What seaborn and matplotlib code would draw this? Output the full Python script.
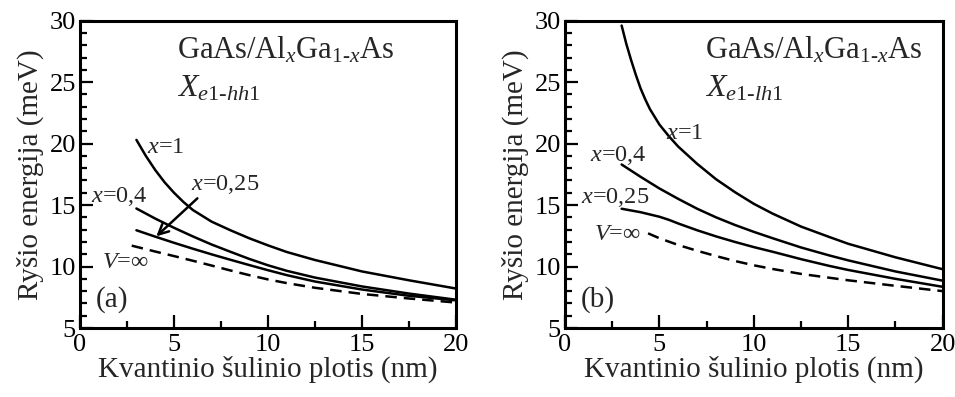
import matplotlib
matplotlib.use("Agg")
import matplotlib.pyplot as plt
import seaborn as sns
import pandas as pd
from matplotlib.ticker import MultipleLocator

sns.set_style("ticks")
plt.rcParams["font.family"] = ["Liberation Serif", "DejaVu Serif"]
plt.rcParams["mathtext.fontset"] = "custom"
plt.rcParams["mathtext.rm"] = "Liberation Serif"
plt.rcParams["mathtext.it"] = "Liberation Serif:italic"
plt.rcParams["mathtext.default"] = "it"

# Panel (a): e1-hh1 exciton binding energy (meV) vs well width (nm)
a_x1_w = [3, 3.5, 4, 4.5, 5, 5.5, 6, 7, 8, 9, 10, 11, 12.5, 15, 17.5, 20]
a_x1_e = [20.3, 19.0, 17.85, 16.85, 16.0, 15.25, 14.6, 13.65, 12.95, 12.3,
          11.72, 11.18, 10.53, 9.6, 8.88, 8.21]
a_x04_w = [3, 4, 5, 6, 7, 8, 9, 10, 11, 12.5, 15, 17.5, 20]
a_x04_e = [14.72, 13.9, 13.15, 12.45, 11.79, 11.2, 10.62, 10.1, 9.65, 9.1,
           8.38, 7.8, 7.3]
a_x025_w = [3, 4, 5, 6, 7, 8, 9, 10, 11, 12.5, 15, 17.5, 20]
a_x025_e = [12.95, 12.43, 11.93, 11.45, 10.99, 10.55, 10.12, 9.7, 9.3, 8.78,
            8.13, 7.62, 7.25]
a_inf_w = [2.75, 4, 5, 6, 7, 8, 9, 10, 11, 12.5, 15, 17.5, 20]
a_inf_e = [11.7, 11.22, 10.85, 10.47, 10.08, 9.68, 9.3, 8.95, 8.65, 8.27,
           7.77, 7.4, 7.07]

# Panel (b): e1-lh1 exciton binding energy (meV) vs well width (nm)
b_x1_w = [3, 3.25, 3.5, 3.75, 4, 4.25, 4.5, 5, 5.5, 6, 7, 8, 9, 10, 11, 12.5,
          14, 15, 17.5, 20]
b_x1_e = [29.6, 28.1, 26.8, 25.6, 24.5, 23.6, 22.8, 21.55, 20.6, 19.75, 18.35,
          17.1, 16.05, 15.1, 14.3, 13.25, 12.4, 11.85, 10.75, 9.78]
b_x04_w = [3, 3.5, 4, 5, 6, 7, 8, 9, 10, 11, 12.5, 14, 15, 17.5, 20]
b_x04_e = [18.3, 17.8, 17.3, 16.35, 15.5, 14.7, 14.0, 13.38, 12.82, 12.3,
           11.55, 10.9, 10.5, 9.6, 8.85]
b_x025_w = [3, 4, 5, 5.5, 6, 7, 8, 9, 10, 11, 12.5, 14, 15, 17.5, 20]
b_x025_e = [14.7, 14.42, 14.05, 13.8, 13.5, 12.95, 12.45, 12.0, 11.58, 11.2,
            10.6, 10.05, 9.72, 9.0, 8.35]
b_inf_w = [4.4, 5, 6, 7, 8, 9, 10, 11, 12.5, 15, 17.5, 20]
b_inf_e = [12.7, 12.3, 11.75, 11.28, 10.85, 10.45, 10.1, 9.8, 9.4, 8.88,
           8.43, 8.0]

x_ticks = [0, 5, 10, 15, 20]
y_ticks = [5, 10, 15, 20, 25, 30]

xlabel = "Kvantinio šulinio plotis (nm)"
ylabel = "Ryšio energija (meV)"
material = r"GaAs/Al$_{x}$Ga$_{\mathrm{1}\text{-}x}$As"
title_a = r"$X_{e\mathrm{1}\text{-}hh\mathrm{1}}$"
title_b = r"$X_{e\mathrm{1}\text{-}lh\mathrm{1}}$"

LW = 1.8
DASH = (0, (4.6, 2.8))


def frame(w, e):
    return pd.DataFrame({"w": w, "e": e})


fig = plt.figure(figsize=(9.55, 3.97), dpi=100)
ax_a = fig.add_axes([0.0838, 0.1738, 0.3937, 0.7742])
ax_b = fig.add_axes([0.5916, 0.1738, 0.3955, 0.7742])

panels = [
    (ax_a, [(a_x1_w, a_x1_e, "-"), (a_x04_w, a_x04_e, "-"),
            (a_x025_w, a_x025_e, "-"), (a_inf_w, a_inf_e, DASH)]),
    (ax_b, [(b_x1_w, b_x1_e, "-"), (b_x04_w, b_x04_e, "-"),
            (b_x025_w, b_x025_e, "-"), (b_inf_w, b_inf_e, DASH)]),
]

for ax, series in panels:
    for w, e, ls in series:
        sns.lineplot(data=frame(w, e), x="w", y="e", ax=ax, color="black",
                     lw=LW, linestyle=ls, sort=False, estimator=None)
    ax.set_xlim(0, 20)
    ax.set_ylim(5, 30)
    ax.set_xticks(x_ticks)
    ax.set_yticks(y_ticks)
    ax.xaxis.set_minor_locator(MultipleLocator(2.5))
    ax.yaxis.set_minor_locator(MultipleLocator(1))
    ax.tick_params(which="both", direction="in", width=1.6, colors="black",
                   labelsize=19, top=False, right=False)
    ax.tick_params(axis="x", which="major", length=9.5, pad=4)
    ax.tick_params(axis="y", which="major", length=9.5, pad=3)
    ax.tick_params(which="minor", length=5)
    for sp in ax.spines.values():
        sp.set_visible(True)
        sp.set_linewidth(2.2)
        sp.set_color("black")
    ax.set_xlabel(xlabel, fontsize=21, labelpad=0)
    ax.set_ylabel(ylabel, fontsize=21, labelpad=4)

TS = 22
LS = 17.5
# Panel (a) annotations
ax_a.text(5.15, 27.6, material, fontsize=TS, va="center", ha="left")
ax_a.text(5.15, 24.5, title_a, fontsize=TS + 1, va="center", ha="left")
ax_a.text(3.55, 19.7, r"$x$=1", fontsize=LS, va="center", ha="left")
ax_a.text(0.6, 15.7, r"$x$=0,4", fontsize=LS, va="center", ha="left")
ax_a.text(5.9, 16.7, r"$x$=0,25", fontsize=LS, va="center", ha="left")
ax_a.text(1.15, 10.35, r"$V$=∞", fontsize=LS, va="center", ha="left")
ax_a.text(0.85, 7.3, "(a)", fontsize=21, va="center", ha="left")
ax_a.annotate("", xy=(3.95, 12.3), xytext=(6.35, 15.7),
              arrowprops=dict(arrowstyle="->", lw=1.8, color="black",
                              mutation_scale=18))

# Panel (b) annotations
ax_b.text(7.4, 27.6, material, fontsize=TS, va="center", ha="left")
ax_b.text(7.4, 24.5, title_b, fontsize=TS + 1, va="center", ha="left")
ax_b.text(5.35, 20.85, r"$x$=1", fontsize=LS, va="center", ha="left")
ax_b.text(1.3, 19.0, r"$x$=0,4", fontsize=LS, va="center", ha="left")
ax_b.text(0.85, 15.65, r"$x$=0,25", fontsize=LS, va="center", ha="left")
ax_b.text(1.55, 12.6, r"$V$=∞", fontsize=LS, va="center", ha="left")
ax_b.text(0.85, 7.3, "(b)", fontsize=21, va="center", ha="left")

fig.savefig("out.png", dpi=100, facecolor="white")
